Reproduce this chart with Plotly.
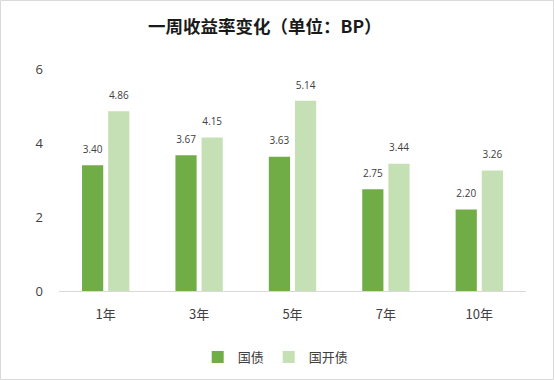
import plotly.graph_objects as go

categories = ["1年", "3年", "5年", "7年", "10年"]
guozhai = [3.40, 3.67, 3.63, 2.75, 2.20]
guokaizhai = [4.86, 4.15, 5.14, 3.44, 3.26]
series_names = ["国债", "国开债"]
colors = ["#70ad47", "#c5e0b4"]
title_text = "一周收益率变化（单位：BP）"
y_ticks = [0, 2, 4, 6]

W, H = 554, 380
ml, mr, mt, mb = 59, 28, 69, 89
pw, ph = W - ml - mr, H - mt - mb

font_family = "Noto Sans CJK SC, Microsoft YaHei, sans-serif"
num_font = "Open Sans, Noto Sans, sans-serif"

fig = go.Figure()
for name, vals, col in zip(series_names, [guozhai, guokaizhai], colors):
    fig.add_trace(go.Bar(
        x=categories, y=vals, name=name,
        marker=dict(color=col, line=dict(width=0)),
    ))
for name, vals in zip(series_names, [guozhai, guokaizhai]):
    fig.add_trace(go.Scatter(
        x=categories, y=vals, name=name + "标签",
        mode="markers+text",
        marker=dict(size=14, opacity=0),
        text=[f"{v:.2f}" for v in vals],
        textposition="top center",
        textfont=dict(size=10, color="#404040", family=num_font),
        showlegend=False, hoverinfo="skip", cliponaxis=False,
    ))

fig.update_layout(
    width=W, height=H,
    margin=dict(l=ml, r=mr, t=mt, b=mb),
    paper_bgcolor="white", plot_bgcolor="white",
    barmode="group", bargap=0.44, bargroupgap=0.19,
    scattermode="group", scattergap=0.44,
    title=dict(text="<b>" + title_text + "</b>", x=148 / W, xanchor="left",
               y=1 - 27 / H, yanchor="middle",
               font=dict(size=17.5, color="#1a1a1a", family=font_family)),
    font=dict(family=font_family),
    xaxis=dict(showline=True, linecolor="#d9d9d9", linewidth=1, ticks="",
               ticklabelstandoff=11, automargin=False,
               tickfont=dict(size=13, color="#404040"), showgrid=False),
    yaxis=dict(range=[0, 6], tickvals=y_ticks, showgrid=False, zeroline=False,
               showline=False, ticks="", ticklabelstandoff=15, automargin=False,
               tickfont=dict(size=13, color="#404040", family=num_font)),
    legend=dict(orientation="h", x=0.464, xanchor="center",
                yref="container", y=1 - 357 / H, yanchor="middle",
                font=dict(size=13, color="#404040"),
                itemwidth=30, traceorder="normal"),
    shapes=[dict(type="rect", xref="paper", yref="paper",
                 x0=(0.5 - ml) / pw, x1=(W - 0.5 - ml) / pw,
                 y0=(mt + ph - (H - 0.5)) / ph, y1=(mt + ph - 0.5) / ph,
                 line=dict(color="#d9d9d9", width=1), layer="below")],
)

fig.write_html("out.html", config={"displayModeBar": False},
               post_script="document.body.style.margin='0';document.body.style.overflow='hidden';")
